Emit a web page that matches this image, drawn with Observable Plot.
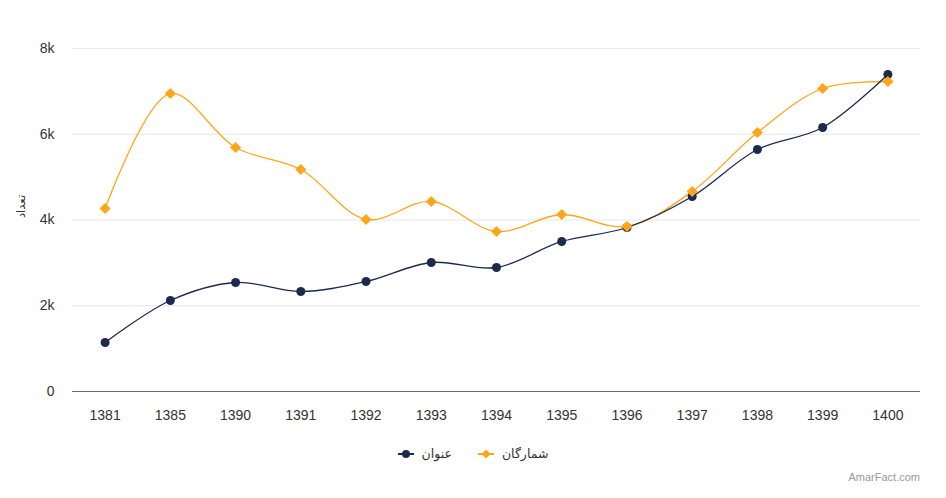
<!DOCTYPE html>
<html><head><meta charset="utf-8">
<script src="https://cdn.jsdelivr.net/npm/d3@7"></script>
<script src="https://cdn.jsdelivr.net/npm/@observablehq/plot@0.6"></script>
<style>
body{margin:0;background:#fff;font-family:"Liberation Sans","DejaVu Sans",Arial,sans-serif;}
#wrap{position:relative;width:946px;height:498px;}
#legend{position:absolute;left:0;top:446px;width:946px;display:flex;justify-content:center;gap:26px;font-size:12.5px;color:#333;font-family:"DejaVu Sans",sans-serif;}
.item{display:flex;align-items:center;gap:8px;}
#credit{position:absolute;right:26px;top:471px;font-size:11px;color:#999;}
</style></head>
<body><div id="wrap"><div id="chart"></div>
<div id="legend"></div>
<div id="credit">AmarFact.com</div></div>
<script>
const years = ["1381","1385","1390","1391","1392","1393","1394","1395","1396","1397","1398","1399","1400"];
const titles = [1143,2122,2542,2332,2566,3009,2892,3499,3825,4548,5644,6157,7394];
const copies = [4268,6950,5691,5178,4012,4431,3732,4128,3848,4665,6041,7067,7230];
const yTicks = [0,2000,4000,6000,8000];
const seriesNames = ["عنوان","شمارگان"];
const colors = ["#1c2a4d","#ffa51a"];

const tData = years.map((y,i)=>({year:y, v:titles[i]}));
const cData = years.map((y,i)=>({year:y, v:copies[i]}));

const plot = Plot.plot({
  width:946, height:430,
  marginLeft:72, marginRight:26, marginTop:48, marginBottom:39,
  style:{fontFamily:"Liberation Sans, Arial, sans-serif", fontSize:"14px", color:"#333"},
  x:{type:"band", domain:years, padding:0, round:false},
  y:{domain:[0,8000]},
  marks:[
    Plot.gridY(yTicks.filter(d=>d>0), {stroke:"#e6e6e6", strokeOpacity:1, strokeWidth:1}),
    Plot.ruleY([0], {stroke:"#6b6b6b", strokeWidth:1.2}),
    Plot.axisY(yTicks, {tickSize:0, tickPadding:18, tickFormat:d=>d===0?"0":(d/1000)+"k", fill:"#333", fontSize:14, label:null}),
    Plot.axisX({tickSize:0, tickPadding:19, fill:"#333", fontSize:14, label:null}),
    Plot.line(cData, {x:"year", y:"v", stroke:colors[1], strokeWidth:1.3, curve:"catmull-rom"}),
    Plot.line(tData, {x:"year", y:"v", stroke:colors[0], strokeWidth:1.3, curve:"catmull-rom"}),
    Plot.dot(tData, {x:"year", y:"v", r:4.5, fill:colors[0], stroke:null}),
    Plot.dot(cData, {x:"year", y:"v", r:5, symbol:"diamond2", fill:colors[1], stroke:null}),
    Plot.text(["تعداد"], {frameAnchor:"left", dx:-51, dy:-2, rotate:-90, text:d=>d, fill:"#333", fontSize:11.5, fontFamily:"DejaVu Sans"})
  ]
});
document.getElementById("chart").appendChild(plot);

const legend = document.getElementById("legend");
const syms = [
 '<svg width="16" height="12"><line x1="0" y1="6" x2="16" y2="6" stroke="'+colors[0]+'" stroke-width="2"/><circle cx="8" cy="6" r="4" fill="'+colors[0]+'"/></svg>',
 '<svg width="16" height="12"><line x1="0" y1="6" x2="16" y2="6" stroke="'+colors[1]+'" stroke-width="2"/><path d="M8 1.5 L12.5 6 L8 10.5 L3.5 6 Z" fill="'+colors[1]+'"/></svg>'
];
seriesNames.forEach((n,i)=>{
  const d=document.createElement("div"); d.className="item";
  d.innerHTML = syms[i]+'<span>'+n+'</span>';
  legend.appendChild(d);
});
</script></body></html>
